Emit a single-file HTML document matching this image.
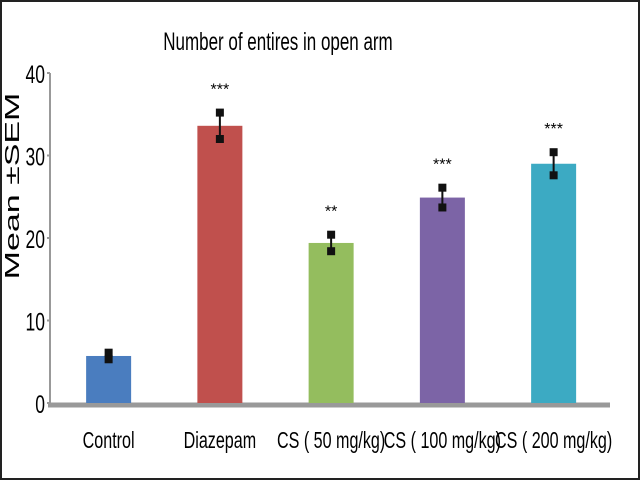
<!DOCTYPE html>
<html><head><meta charset="utf-8"><style>
html,body{margin:0;padding:0;background:#fff}
svg{display:block;font-family:"Liberation Sans",sans-serif}
</style></head><body>
<svg id="chart" width="640" height="480" viewBox="0 0 640 480">
<rect x="1" y="1" width="638" height="478" fill="#fff" stroke="#222" stroke-width="2"/>
<text x="0" y="0" font-size="25" text-anchor="middle" transform="translate(278,50) scale(0.68,1)">Number of entires in open arm</text>
<text x="0" y="0" font-size="20" text-anchor="middle" transform="translate(19,186) rotate(-90) scale(1.7,1)">Mean ±SEM</text>
<g id="axes"></g>
<g id="bars"></g>
</svg>
<script>
const categories = ["Control","Diazepam","CS ( 50 mg/kg)","CS ( 100 mg/kg)","CS ( 200 mg/kg)"];
const means = [5.7, 33.6, 19.4, 24.9, 29.0];
const sems = [0.4, 1.6, 1.0, 1.2, 1.4];
const stars = ["", "***", "**", "***", "***"];
const colors = ["#4a7dbf","#c0504d","#94bd5e","#7c64a6","#3caac3"];
const yTicks = [0,10,20,30,40];
const NS="http://www.w3.org/2000/svg";
const y0=403, yTop=73, yMax=40, xL=50, xR=610;
const y=v=>y0-(y0-yTop)*v/yMax;
const bandStart=53, band=111.25, barW=45;
const xc=i=>bandStart+band*i+band/2;
function mk(t,a,p){const e=document.createElementNS(NS,t);for(const k in a)e.setAttribute(k,a[k]);(p||document.getElementById('chart')).appendChild(e);return e;}
const ax=document.getElementById('axes'), bg=document.getElementById('bars');
const yl=mk('line',{x1:xL,y1:y(40),x2:xL,y2:y0,stroke:'#999','stroke-width':2},ax);


yTicks.forEach(t=>{
 const tk=mk('line',{x1:xL-3,y1:y(t),x2:xL,y2:y(t),stroke:'#999','stroke-width':2},ax);
 
 
 const tx=mk('text',{x:0,y:0,'font-size':25,'text-anchor':'end',transform:`translate(${xL-5},${y(t)+10}) scale(0.7,1)`},ax);
 tx.textContent=t;
 
 
});
categories.forEach((c,i)=>{
 const cx=xc(i);
 const r=mk('rect',{x:cx-barW/2,y:y(means[i]),width:barW,height:y0-y(means[i]),fill:colors[i]},bg);
 
 
 const hi=y(means[i]+sems[i]), lo=y(means[i]-sems[i]);
 const el=mk('line',{x1:cx,y1:hi,x2:cx,y2:lo,stroke:'#111','stroke-width':2},bg);
 
 
 [hi,lo].forEach(v=>{const cap=mk('rect',{x:cx-4,y:v-4,width:8,height:8,fill:'#111'},bg);
  
  });
 if(stars[i]){const s=mk('text',{x:cx,y:hi-18,'font-size':16,'text-anchor':'middle'},bg);
  s.textContent=stars[i];
  
  }
 const lb=mk('text',{x:0,y:0,'font-size':23,'text-anchor':'middle',transform:`translate(${cx},448) scale(0.7,1)`},ax);
 lb.textContent=c;
 
 
});
const xl=mk('line',{x1:xL-2,y1:y0+2,x2:xR,y2:y0+2,stroke:'#999','stroke-width':5},ax);


</script>
</body></html>
